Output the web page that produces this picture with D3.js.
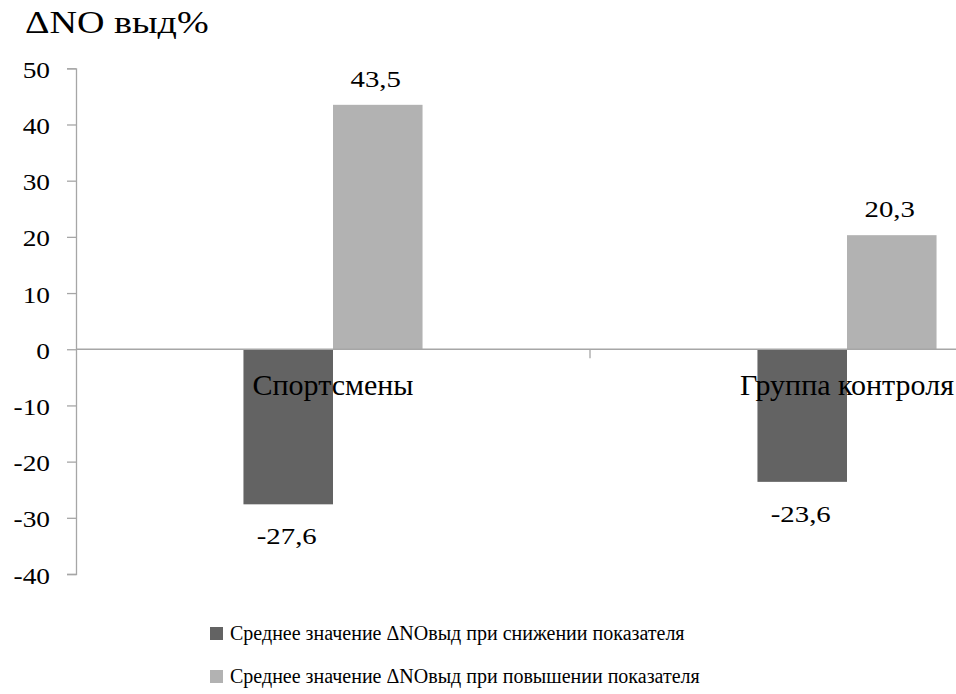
<!DOCTYPE html>
<html>
<head>
<meta charset="utf-8">
<script src="https://cdn.jsdelivr.net/npm/d3@7"></script>
<style>
  html, body { margin: 0; padding: 0; background: #fff; }
  svg { display: block; }
  text { font-family: "Times New Roman", "Liberation Serif", Tinos, serif; fill: #000; }
</style>
</head>
<body>
<svg id="chart" width="956" height="694"></svg>
<script>
// Categories, series and values
const categories = ["Спортсмены", "Группа контроля"];
const seriesNames = [
  "Среднее значение ΔNOвыд при снижении показателя",
  "Среднее значение ΔNOвыд при повышении показателя"
];
const decreaseValues = [-27.6, -23.6];
const increaseValues = [43.5, 20.3];
const valueLabels = [["-27,6", "43,5"], ["-23,6", "20,3"]];
const yTicks = [50, 40, 30, 20, 10, 0, -10, -20, -30, -40];
const seriesColors = ["#636363", "#b2b2b2"];
const axisColor = "#a6a6a6";

const rows = categories.map((c, i) => ({
  category: c,
  values: [decreaseValues[i], increaseValues[i]],
  labels: valueLabels[i]
}));

// Widen text horizontally around its anchor point
function widen(sel, k) {
  sel.each(function () {
    const t = d3.select(this);
    const x = +t.attr("x") || 0;
    const y = +t.attr("y") || 0;
    t.attr("x", 0).attr("y", 0)
      .attr("transform", `translate(${x},${y}) scale(${k},1)`);
  });
}

const svg = d3.select("#chart");

const y = d3.scaleLinear().domain([-40, 50]).range([574, 68.3]);
const x = d3.scaleBand().domain(categories).range([76, 1104]).padding(0);
const xs = d3.scaleBand().domain([0, 1]).range([0, x.bandwidth()])
  .paddingInner(0).paddingOuter(1.87);

// Title
svg.append("text")
  .attr("x", 25).attr("y", 33)
  .attr("font-size", 32)
  .text("ΔNO выд%")
  .call(widen, 1.19);

// Y axis
const yAxis = svg.append("g")
  .attr("transform", "translate(76,0)")
  .call(d3.axisLeft(y).tickValues(yTicks).tickSize(9).tickPadding(17)
    .tickFormat(d => String(d)));
yAxis.select(".domain").attr("stroke", axisColor).attr("stroke-width", 1.3);
yAxis.selectAll(".tick line").attr("stroke", axisColor).attr("stroke-width", 1.3);
yAxis.selectAll(".tick text")
  .attr("font-size", 24)
  .attr("dy", "0.38em")
  .attr("fill", "#000")
  .call(widen, 1.14);

// Bars
const groups = svg.append("g").selectAll("g")
  .data(rows).join("g")
  .attr("transform", d => `translate(${x(d.category)},0)`);

groups.selectAll("rect")
  .data(d => d.values.map((v, k) => ({ v, k })))
  .join("rect")
  .attr("x", d => xs(d.k))
  .attr("width", xs.bandwidth())
  .attr("y", d => y(Math.max(0, d.v)))
  .attr("height", d => Math.abs(y(d.v) - y(0)))
  .attr("fill", d => seriesColors[d.k]);

// Value labels
groups.selectAll("text.val")
  .data(d => d.values.map((v, k) => ({ v, k, label: d.labels[k] })))
  .join("text")
  .attr("class", "val")
  .attr("x", d => xs(d.k) + xs.bandwidth() / 2 - (d.v < 0 ? 1.5 : 2))
  .attr("y", d => d.v >= 0 ? y(d.v) - 18 : y(d.v) + 40)
  .attr("text-anchor", "middle")
  .attr("font-size", 24)
  .text(d => d.label)
  .call(widen, 1.2);

// X axis (zero line) with category boundary tick
const xAxis = svg.append("g");
xAxis.append("line")
  .attr("x1", 76).attr("x2", 956)
  .attr("y1", y(0)).attr("y2", y(0))
  .attr("stroke", axisColor).attr("stroke-width", 1.3);
xAxis.selectAll("line.tick")
  .data(categories.slice(1))
  .join("line")
  .attr("class", "tick")
  .attr("x1", d => x(d)).attr("x2", d => x(d))
  .attr("y1", y(0)).attr("y2", y(0) + 9)
  .attr("stroke", axisColor).attr("stroke-width", 1.3);

// Category labels
svg.append("g").selectAll("text")
  .data(categories).join("text")
  .attr("x", d => x(d) + x.bandwidth() / 2)
  .attr("y", y(0) + 45.5)
  .attr("text-anchor", "middle")
  .attr("font-size", 30)
  .text(d => d);

// Legend
const legend = svg.append("g").selectAll("g")
  .data(seriesNames).join("g")
  .attr("transform", (d, i) => `translate(210,${640 + i * 43})`);
legend.append("rect")
  .attr("x", 0).attr("y", -13)
  .attr("width", 13).attr("height", 13)
  .attr("fill", (d, i) => seriesColors[i]);
legend.append("text")
  .attr("x", 20).attr("y", 0)
  .attr("font-size", 20)
  .text(d => d);
</script>
</body>
</html>
